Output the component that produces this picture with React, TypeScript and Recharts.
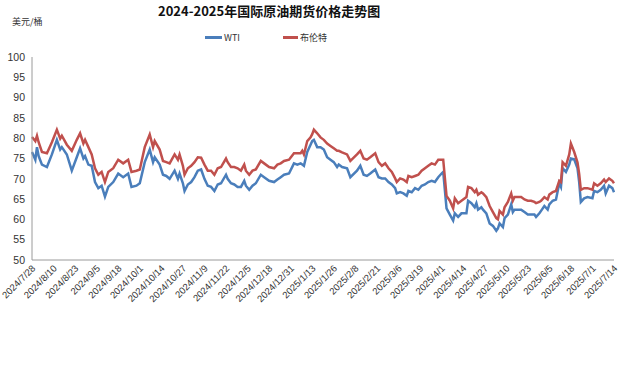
import { Legend, Line, LineChart, XAxis, YAxis } from "recharts";

// trading dates, WTI and Brent closes in USD/bbl
const dates = [
  "2024/7/28", "2024/7/30", "2024/7/31", "2024/8/1", "2024/8/3", "2024/8/6", "2024/8/9", "2024/8/12",
  "2024/8/14", "2024/8/15", "2024/8/18", "2024/8/21", "2024/8/24", "2024/8/26", "2024/8/28", "2024/8/29",
  "2024/8/31", "2024/9/2", "2024/9/4", "2024/9/6", "2024/9/8", "2024/9/10", "2024/9/12", "2024/9/15",
  "2024/9/18", "2024/9/21", "2024/9/24", "2024/9/26", "2024/9/29", "2024/10/1", "2024/10/4", "2024/10/7",
  "2024/10/9", "2024/10/10", "2024/10/13", "2024/10/15", "2024/10/17", "2024/10/19", "2024/10/22", "2024/10/24",
  "2024/10/25", "2024/10/27", "2024/10/28", "2024/10/30", "2024/11/1", "2024/11/3", "2024/11/5", "2024/11/7",
  "2024/11/9", "2024/11/11", "2024/11/13", "2024/11/15", "2024/11/17", "2024/11/19", "2024/11/22", "2024/11/23",
  "2024/11/25", "2024/11/27", "2024/11/29", "2024/12/1", "2024/12/3", "2024/12/4", "2024/12/6", "2024/12/8",
  "2024/12/10", "2024/12/13", "2024/12/15", "2024/12/18", "2024/12/21", "2024/12/23", "2024/12/25", "2024/12/27",
  "2024/12/30", "2025/1/2", "2025/1/4", "2025/1/6", "2025/1/7", "2025/1/8", "2025/1/10", "2025/1/12",
  "2025/1/13", "2025/1/14", "2025/1/16", "2025/1/18", "2025/1/20", "2025/1/22", "2025/1/24", "2025/1/26",
  "2025/1/28", "2025/1/29", "2025/1/31", "2025/2/3", "2025/2/5", "2025/2/9", "2025/2/11", "2025/2/13",
  "2025/2/15", "2025/2/17", "2025/2/20", "2025/2/22", "2025/2/24", "2025/2/26", "2025/2/28", "2025/3/2",
  "2025/3/4", "2025/3/5", "2025/3/7", "2025/3/9", "2025/3/11", "2025/3/12", "2025/3/14", "2025/3/16",
  "2025/3/18", "2025/3/20", "2025/3/22", "2025/3/24", "2025/3/26", "2025/3/28", "2025/3/30", "2025/4/1",
  "2025/4/2", "2025/4/4", "2025/4/6", "2025/4/8", "2025/4/9", "2025/4/11", "2025/4/13", "2025/4/16",
  "2025/4/17", "2025/4/19", "2025/4/21", "2025/4/22", "2025/4/23", "2025/4/25", "2025/4/26", "2025/4/28",
  "2025/4/30", "2025/5/2", "2025/5/4", "2025/5/5", "2025/5/6", "2025/5/8", "2025/5/9", "2025/5/11",
  "2025/5/13", "2025/5/14", "2025/5/15", "2025/5/17", "2025/5/19", "2025/5/21", "2025/5/23", "2025/5/25",
  "2025/5/27", "2025/5/28", "2025/5/30", "2025/5/31", "2025/6/2", "2025/6/4", "2025/6/5", "2025/6/7",
  "2025/6/9", "2025/6/11", "2025/6/12", "2025/6/13", "2025/6/15", "2025/6/17", "2025/6/18", "2025/6/20",
  "2025/6/22", "2025/6/23", "2025/6/24", "2025/6/26", "2025/6/28", "2025/7/1", "2025/7/2", "2025/7/4",
  "2025/7/6", "2025/7/8", "2025/7/9", "2025/7/11", "2025/7/13", "2025/7/14",
];

const wti = [
  76.6, 74.7, 77.8, 75.6, 73.5, 72.9, 76.0, 79.6,
  77.2, 77.8, 76.0, 72.0, 75.3, 77.5, 75.0, 75.6,
  73.5, 73.2, 69.2, 67.7, 68.3, 65.6, 68.0, 69.2,
  71.3, 70.4, 71.3, 68.0, 68.3, 68.9, 74.1, 77.2,
  74.1, 75.3, 73.5, 71.0, 70.7, 70.0, 72.0, 70.0,
  71.3, 68.9, 67.0, 68.6, 69.2, 70.4, 72.0, 72.3,
  70.0, 68.3, 68.0, 67.0, 68.6, 68.9, 71.0, 70.0,
  68.9, 68.6, 68.0, 68.0, 69.5, 68.3, 67.3, 68.3,
  68.9, 71.0, 70.4, 69.5, 69.2, 69.8, 70.4, 71.0,
  71.3, 73.8, 73.5, 73.8, 73.5, 73.2, 76.6, 78.4,
  79.3, 79.6, 77.8, 77.8, 77.2, 75.3, 74.7, 74.1,
  72.9, 73.5, 72.9, 72.6, 70.4, 72.0, 73.2, 71.0,
  70.7, 71.3, 72.3, 70.4, 70.1, 70.1, 69.2, 68.6,
  67.7, 66.4, 66.7, 66.4, 65.8, 67.0, 66.7, 67.7,
  67.3, 68.3, 68.6, 69.2, 69.5, 69.2, 70.4, 71.3,
  71.7, 62.7, 61.2, 59.7, 61.5, 60.6, 61.5, 61.5,
  64.6, 64.0, 63.0, 64.0, 62.4, 63.0, 62.4, 61.5,
  59.0, 58.4, 57.2, 57.8, 59.0, 58.1, 60.3, 61.2,
  63.7, 61.8, 62.4, 62.4, 62.4, 61.8, 61.2, 61.2,
  61.2, 60.6, 61.5, 62.1, 63.3, 62.4, 63.7, 64.6,
  64.9, 68.9, 68.0, 72.6, 71.7, 73.5, 75.0, 74.8,
  72.6, 69.2, 64.3, 65.2, 65.5, 65.2, 67.0, 66.7,
  67.3, 68.3, 66.4, 68.3, 67.7, 66.7,
];

const brent = [
  80.3, 79.3, 80.6, 79.0, 76.6, 76.3, 79.0, 82.1,
  79.9, 80.6, 78.4, 76.9, 79.6, 81.2, 78.7, 79.6,
  77.8, 76.0, 72.6, 71.0, 71.7, 69.2, 71.7, 72.6,
  74.7, 73.8, 74.7, 71.7, 72.0, 72.3, 77.8, 80.9,
  77.8, 79.3, 77.2, 74.4, 74.1, 73.8, 76.0, 74.7,
  76.0, 73.2, 71.0, 72.6, 73.2, 74.1, 75.3, 75.2,
  73.5, 72.0, 72.0, 71.0, 72.6, 72.9, 75.0, 74.1,
  72.9, 72.9, 72.6, 72.0, 73.5, 72.0, 71.0, 72.0,
  72.3, 74.4, 73.8, 72.9, 72.6, 73.5, 73.8, 74.4,
  74.7, 76.3, 76.3, 76.3, 76.9, 76.0, 79.3, 80.2,
  81.0, 82.1, 81.2, 80.2, 79.6, 78.7, 78.1, 77.5,
  76.9, 76.9, 76.5, 76.0, 74.4, 76.0, 76.9, 75.0,
  74.7, 75.3, 76.3, 74.1, 73.2, 73.8, 72.6, 71.7,
  70.1, 69.2, 70.1, 69.8, 69.2, 70.7, 70.4, 70.7,
  71.0, 72.0, 72.6, 73.2, 73.8, 73.5, 74.7, 74.7,
  74.7, 65.8, 64.6, 62.7, 65.2, 64.0, 64.6, 65.5,
  68.0, 67.7, 66.7, 67.3, 66.1, 66.7, 66.4, 65.5,
  63.3, 61.8, 60.3, 60.0, 62.1, 61.2, 63.0, 64.3,
  66.4, 64.6, 65.5, 65.5, 65.5, 64.9, 64.6, 64.6,
  64.3, 64.0, 64.3, 64.6, 65.5, 64.9, 66.1, 66.7,
  67.0, 69.5, 69.2, 74.1, 73.2, 76.0, 78.7, 76.6,
  74.0, 71.2, 67.3, 67.7, 67.7, 67.3, 68.9, 68.3,
  68.9, 69.8, 69.2, 70.1, 69.5, 68.9,
];

const tickDates = [
  "2024/7/28", "2024/8/10", "2024/8/23", "2024/9/5", "2024/9/18", "2024/10/1", "2024/10/14",
  "2024/10/27", "2024/11/9", "2024/11/22", "2024/12/5", "2024/12/18", "2024/12/31", "2025/1/13",
  "2025/1/26", "2025/2/8", "2025/2/21", "2025/3/6", "2025/3/19", "2025/4/1", "2025/4/14",
  "2025/4/27", "2025/5/10", "2025/5/23", "2025/6/5", "2025/6/18", "2025/7/1", "2025/7/14",
];

const yTicks = [50, 55, 60, 65, 70, 75, 80, 85, 90, 95, 100];

const DAY = 86400000;
const toMs = (s: string) => {
  const [y, m, d] = s.split("/").map(Number);
  return Date.UTC(y, m - 1, d);
};
const start = toMs(dates[0]);
const dayOf = (s: string) => Math.round((toMs(s) - start) / DAY);
const labelOf = (day: number) => {
  const dt = new Date(start + day * DAY);
  return `${dt.getUTCFullYear()}/${dt.getUTCMonth() + 1}/${dt.getUTCDate()}`;
};

const data = dates.map((d, i) => ({ day: dayOf(d), wti: wti[i], brent: brent[i] }));
const ticks = tickDates.map(dayOf);

const BLUE = "#4a7ebb";
const RED = "#c0504d";
const AXIS = "#9a9a9a";
const FONT = "'Liberation Sans', Arial, sans-serif";
const CJK = "'Noto Sans CJK SC', sans-serif";

function DateTick(props: any) {
  const { x, y, payload } = props;
  const tx = x + 4;
  const ty = y + 7;
  return (
    <text
      x={tx}
      y={ty}
      transform={`rotate(-45 ${tx} ${ty})`}
      textAnchor="end"
      fontSize={9.5}
      fontFamily={FONT}
      fill="#333"
    >
      {labelOf(payload.value)}
    </text>
  );
}

function TopLegend() {
  const item = (color: string, text: string, left: number, w: number) => (
    <div style={{ position: "absolute", left, top: 0, display: "flex", alignItems: "center", height: 14 }}>
      <span style={{ width: w, height: 3, background: color, display: "inline-block", marginRight: 2 }} />
      <span style={{ fontSize: 9, color: "#333", fontFamily: CJK }}>{text}</span>
    </div>
  );
  return (
    <div style={{ position: "relative", width: 626, height: 14 }}>
      {item(BLUE, "WTI", 205, 17)}
      {item(RED, "布伦特", 283, 15)}
    </div>
  );
}

export default function App() {
  return (
    <div style={{ position: "relative", width: 626, height: 368, background: "#fff" }}>
      <style>{`body{margin:0}`}</style>
      <div
        style={{
          position: "absolute",
          left: 158,
          top: 2,
          fontSize: 13,
          lineHeight: "18px",
          fontWeight: 700,
          fontFamily: CJK,
          color: "#111",
          whiteSpace: "nowrap",
          zIndex: 2,
        }}
      >
        2024-2025年国际原油期货价格走势图
      </div>
      <div
        style={{
          position: "absolute",
          left: 12,
          top: 14,
          fontSize: 9,
          lineHeight: "16px",
          fontFamily: CJK,
          color: "#333",
          zIndex: 2,
        }}
      >
        美元/桶
      </div>
      <LineChart
        width={626}
        height={368}
        data={data}
        margin={{ top: 43, right: 12, bottom: 54, left: 0 }}
      >
        <Legend
          verticalAlign="top"
          content={() => <TopLegend />}
          wrapperStyle={{ top: 30, left: 0 }}
        />
        <XAxis
          dataKey="day"
          type="number"
          domain={[0, 351]}
          ticks={ticks}
          interval={0}
          tickLine={false}
          tickSize={0}
          tick={<DateTick />}
          axisLine={{ stroke: AXIS }}
          height={54}
        />
        <YAxis
          domain={[50, 100]}
          ticks={yTicks}
          interval={0}
          width={32}
          tickLine={false}
          tickSize={0}
          tickMargin={7}
          axisLine={{ stroke: AXIS }}
          tick={{ fontSize: 10.5, fill: "#333", fontFamily: FONT }}
        />
        <Line
          type="linear"
          dataKey="wti"
          name="WTI"
          stroke={BLUE}
          strokeWidth={2.5}
          dot={false}
          isAnimationActive={false}
        />
        <Line
          type="linear"
          dataKey="brent"
          name="布伦特"
          stroke={RED}
          strokeWidth={2.5}
          dot={false}
          isAnimationActive={false}
        />
      </LineChart>
    </div>
  );
}
